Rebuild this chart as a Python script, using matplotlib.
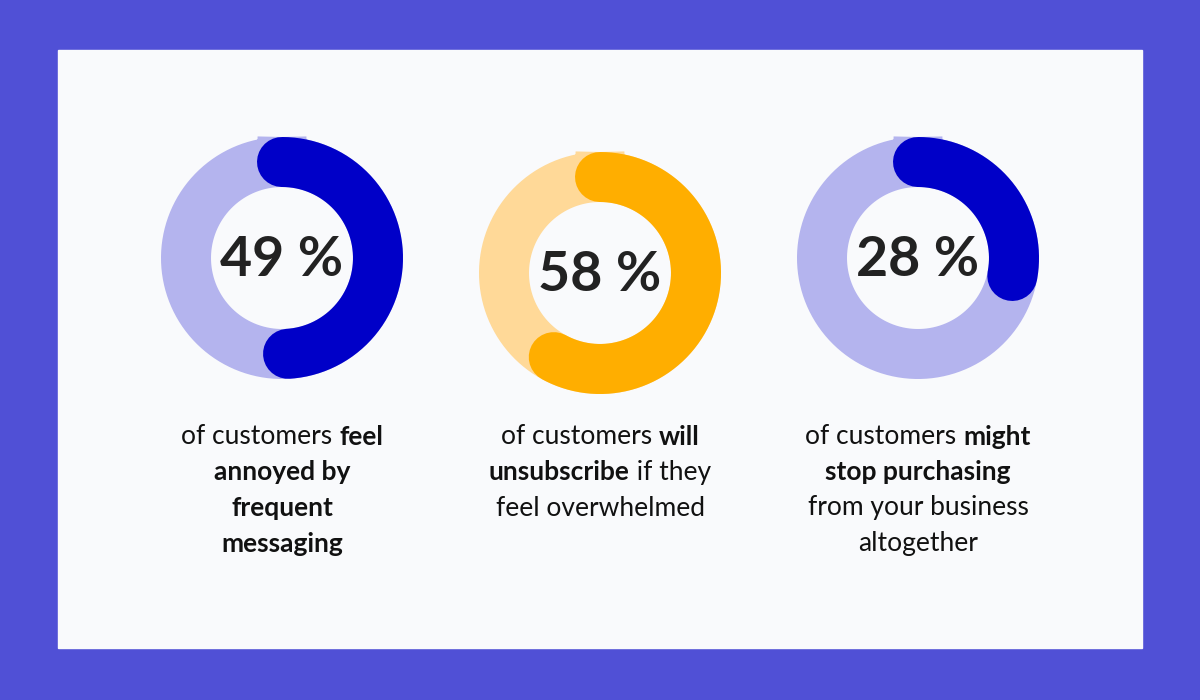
import matplotlib.pyplot as plt
import numpy as np

# data
values = [49, 58, 28]
labels = ["49 %", "58 %", "28 %"]
track_colors = ["#B4B4EE", "#FFD998", "#B4B4EE"]
value_colors = ["#0000C8", "#FFAE00", "#0000C8"]
captions = [
    [[("of customers ", False), ("feel", True)], [("annoyed by", True)],
     [("frequent", True)], [("messaging", True)]],
    [[("of customers ", False), ("will", True)],
     [("unsubscribe", True), (" if they", False)], [("feel overwhelmed", False)]],
    [[("of customers ", False), ("might", True)], [("stop purchasing", True)],
     [("from your business", False)], [("altogether", False)]],
]

centers = [(282, 258), (600, 273), (918, 258)]
r_mid, ring_w = 96, 50
font = "Lato"


def main():
    fig = plt.figure(figsize=(12, 7), dpi=100)
    fig.patch.set_facecolor("#5050D6")
    ax = fig.add_axes([0, 0, 1, 1])
    ax.set_xlim(0, 1200)
    ax.set_ylim(700, 0)
    ax.axis("off")
    ax.add_patch(plt.Rectangle((58, 50), 1084, 598, color="#F9FAFC", zorder=0))
    lw = ring_w * 0.72

    for (cx, cy), v, lab, tc, vc in zip(centers, values, labels, track_colors, value_colors):
        t = np.linspace(0, 2 * np.pi, 400)
        ax.plot(cx + r_mid * np.sin(t), cy - r_mid * np.cos(t), color=tc, lw=lw)
        t = np.linspace(0, 2 * np.pi * v / 100, 300)
        ax.plot(cx + r_mid * np.sin(t), cy - r_mid * np.cos(t), color=vc, lw=lw,
                solid_capstyle="round")
        ax.text(cx, cy + 2, lab, ha="center", va="center", fontsize=40,
                fontweight="bold", color="#222222", family=font)

    fig.canvas.draw()
    rend = fig.canvas.get_renderer()
    for (cx, _), lines in zip(centers, captions):
        for i, line in enumerate(lines):
            y = 437 + i * 35.5
            pieces = []
            for s, b in line:
                tx = ax.text(0, y, s, ha="left", va="center", fontsize=19,
                             fontweight="bold" if b else "normal",
                             color="#111111", family=font)
                pieces.append(tx)
            widths = [p.get_window_extent(rend).width for p in pieces]
            x = cx - sum(widths) / 2
            for p, w in zip(pieces, widths):
                p.set_x(x)
                x += w

    fig.savefig("out.png", facecolor=fig.get_facecolor())


if __name__ == "__main__":
    main()
